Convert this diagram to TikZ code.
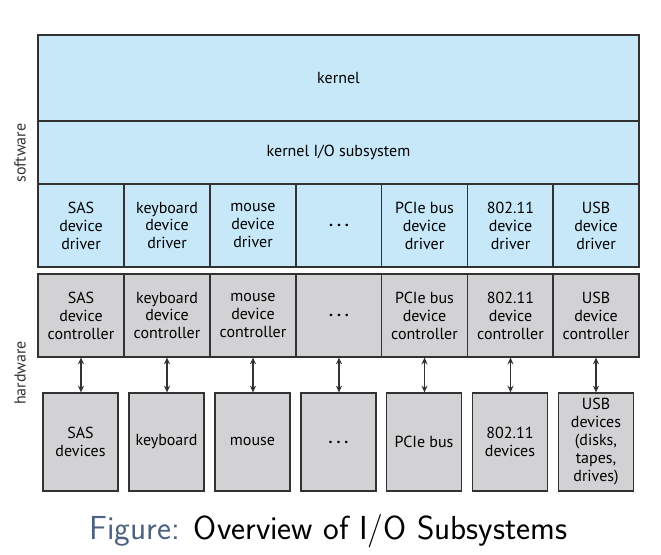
\documentclass[tikz,border=0pt]{standalone}
\usepackage{fontspec}
\usepackage{tikz}
\usetikzlibrary{arrows.meta,positioning}
\newfontfamily\diagfont{PT Sans}
\definecolor{softblue}{RGB}{198,232,248}
\definecolor{hardgray}{RGB}{210,210,212}
\definecolor{edgegray}{RGB}{50,50,50}
\definecolor{figslate}{RGB}{76,98,128}
\newcommand{\gapdots}{\textbf{.\hspace{3pt}.\hspace{3pt}.}}

\tikzset{
  layer/.style={draw=edgegray,line width=0.9pt,fill=softblue,minimum width=450.75pt,
    font=\diagfont\fontsize{12}{13.5}\selectfont,inner sep=0pt},
  driverbox/.style={draw=edgegray,line width=0.9pt,fill=softblue,minimum width=64.4pt,
    minimum height=62.25pt,align=center,font=\diagfont\fontsize{12}{13.5}\selectfont,inner sep=0pt},
  ctlbox/.style={driverbox,fill=hardgray},
  devbox/.style={ctlbox,minimum width=56.25pt,minimum height=73.5pt},
  link/.style={line width=1.1pt,edgegray,{Stealth[length=5pt,width=4.5pt]}-{Stealth[length=5pt,width=4.5pt]}},
  sidelabel/.style={rotate=90,font=\diagfont\fontsize{12}{13.5}\selectfont,text=edgegray}
}

\begin{document}
\begin{tikzpicture}[x=0.75pt,y=-0.75pt]
    \useasboundingbox (0,0) rectangle (661,555);

    % software: kernel layers
    \node[layer,minimum height=64.5pt] (kernel) at (338.5,78) {kernel};
    \node[layer,minimum height=47.25pt] (kio) at (338.5,152.5) {kernel I/O subsystem};

    % software: device drivers
    \node[driverbox] (drvsas) at (81,225.5) {SAS\\device\\driver};
    \node[driverbox] (drvkbd) at (167,225.5) {keyboard\\device\\driver};
    \node[driverbox] (drvmouse) at (253,225.5) {mouse\\device\\driver};
    \node[driverbox] (drvdots) at (339,225.5) {\gapdots};
    \node[driverbox] (drvpcie) at (424.5,225.5) {PCIe bus\\device\\driver};
    \node[driverbox] (drvwifi) at (510.5,225.5) {802.11\\device\\driver};
    \node[driverbox] (drvusb) at (596,225.5) {USB\\device\\driver};

    % hardware: device controllers
    \node[ctlbox] (ctlsas) at (81,315.5) {SAS\\device\\controller};
    \node[ctlbox] (ctlkbd) at (167,315.5) {keyboard\\device\\controller};
    \node[ctlbox] (ctlmouse) at (253,315.5) {mouse\\device\\controller};
    \node[ctlbox] (ctldots) at (339,315.5) {\gapdots};
    \node[ctlbox] (ctlpcie) at (424.5,315.5) {PCIe bus\\device\\controller};
    \node[ctlbox] (ctlwifi) at (510.5,315.5) {802.11\\device\\controller};
    \node[ctlbox] (ctlusb) at (596,315.5) {USB\\device\\controller};

    % hardware: devices
    \node[devbox] (devsas) at (80.5,442) {SAS\\devices};
    \node[devbox] (devkbd) at (166.5,442) {keyboard};
    \node[devbox] (devmouse) at (252.5,442) {mouse};
    \node[devbox] (devdots) at (338.5,442) {\gapdots};
    \node[devbox] (devpcie) at (424,442) {PCIe bus};
    \node[devbox] (devwifi) at (510,442) {802.11\\devices};
    \node[devbox] (devusb) at (596,442) {USB\\devices\\(disks,\\tapes,\\drives)};

    % controller <-> device
    \draw[link] (ctlsas) -- (ctlsas |- devsas.north);
    \draw[link] (ctlkbd) -- (ctlkbd |- devkbd.north);
    \draw[link] (ctlmouse) -- (ctlmouse |- devmouse.north);
    \draw[link] (ctldots) -- (ctldots |- devdots.north);
    \draw[link] (ctlpcie) -- (ctlpcie |- devpcie.north);
    \draw[link] (ctlwifi) -- (ctlwifi |- devwifi.north);
    \draw[link] (ctlusb) -- (ctlusb |- devusb.north);

    \node[sidelabel] (swlabel) at (20,153) {software};
    \node[sidelabel] (hwlabel) at (20,373) {hardware};

    \node[anchor=base,font=\sffamily\fontsize{25}{28}\selectfont] (caption) at (328.5,540)
      {\textcolor{figslate}{Figure:} Overview of I/O Subsystems};
  \end{tikzpicture}
\end{document}
